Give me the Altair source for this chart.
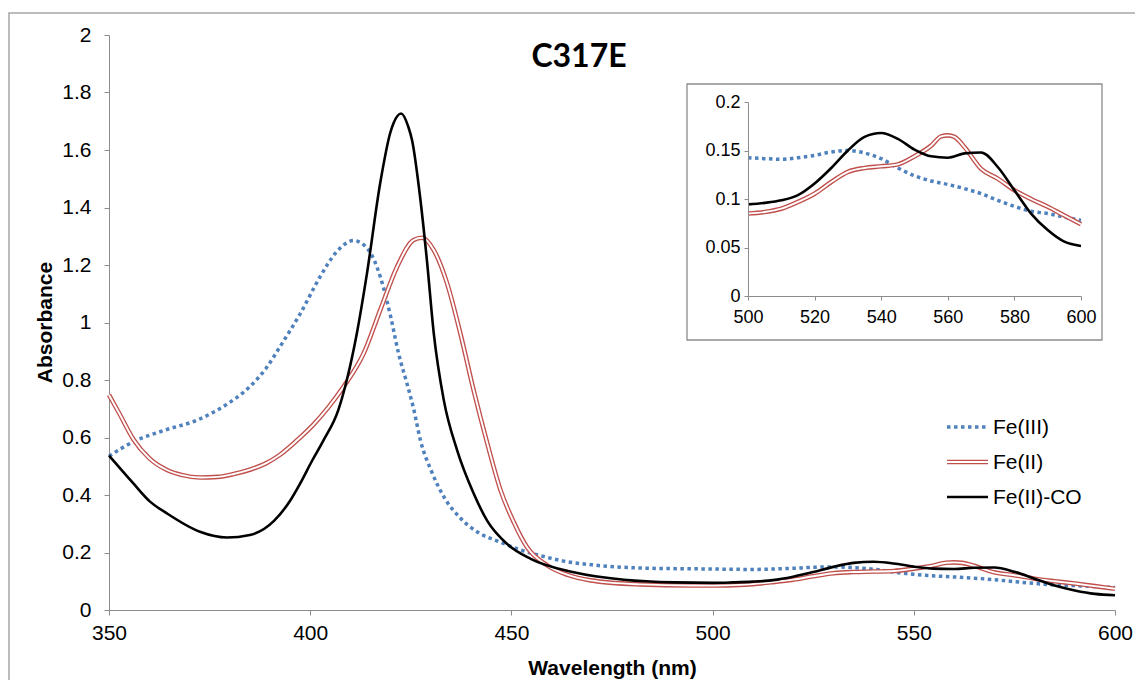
import altair as alt
import pandas as pd

# ---------------- data ----------------
fe3_nm = [350, 356, 364, 372, 379, 385, 389, 392.5, 397.5, 402.5,
          406.5, 410.8, 414.5, 417.4, 420, 422, 424, 425.7, 427.4, 430,
          433.2, 437.3, 442.3, 447.3, 452, 457, 463, 470, 482, 490,
          500, 505, 510, 515, 520, 525, 530, 535, 540, 545, 550,
          555, 560, 565, 570, 575, 580, 585, 590, 595, 600]
fe3_abs = [0.535, 0.585, 0.626, 0.661, 0.713, 0.777, 0.84, 0.916, 1.03, 1.16,
           1.245, 1.285, 1.252, 1.16, 1.02, 0.89, 0.79, 0.70, 0.59, 0.487,
           0.394, 0.32, 0.265, 0.236, 0.21, 0.19, 0.17, 0.157, 0.146, 0.144,
           0.1426, 0.1416, 0.141, 0.1426, 0.145, 0.1485, 0.150, 0.1474, 0.1416, 0.132, 0.124,
           0.1186, 0.115, 0.1107, 0.1055, 0.0986, 0.0924, 0.0873, 0.085, 0.0814, 0.078]

fe2_nm = [350, 352.7, 356, 360, 364.4, 368, 372.6, 377, 381, 385,
          389, 392.5, 397.5, 400.8, 404.5, 408.3, 413.3, 417.4, 421.6, 425.7,
          427.8, 430.7, 434, 437.3, 440.6, 444, 447.3, 450.6, 453.9, 458.9,
          464, 469.7, 482, 494.5,
          500, 505, 510, 515, 520, 525, 530, 535, 540, 545, 550,
          555, 558, 560, 562, 565, 570, 575, 580, 585, 590, 595, 600]
fe2_abs = [0.748, 0.68, 0.595, 0.528, 0.487, 0.47, 0.461, 0.463, 0.473, 0.488,
           0.51, 0.54, 0.60, 0.645, 0.705, 0.777, 0.893, 1.043, 1.194, 1.287,
           1.295, 1.252, 1.137, 0.963, 0.765, 0.58, 0.417, 0.305, 0.218, 0.155,
           0.122, 0.103, 0.089, 0.085,
           0.085, 0.0866, 0.090, 0.097, 0.1055, 0.1175, 0.128, 0.132, 0.1337, 0.1357, 0.144,
           0.155, 0.1646, 0.1656, 0.164, 0.1536, 0.131, 0.121, 0.109, 0.100, 0.092, 0.083, 0.074]

co_nm = [350, 356, 360.2, 364.4, 372.6, 379.3, 385, 391, 395, 397.5,
         400.5, 403.3, 407, 409.1, 411.6, 414.1, 417.4, 419.9, 420.7, 422.6,
         424.4, 425.3, 427.4, 429, 430.7, 433.2, 436.5, 440.6, 444, 449,
         454.8, 465.5, 478, 490.4,
         500, 505, 510, 515, 520, 525, 530, 535, 540, 545, 550,
         555, 560, 565, 570, 575, 580, 585, 590, 595, 600]
co_abs = [0.537, 0.441, 0.377, 0.336, 0.272, 0.252, 0.261, 0.31, 0.38, 0.44,
          0.52, 0.59, 0.696, 0.80, 0.963, 1.17, 1.485, 1.66, 1.693, 1.727,
          1.68, 1.635, 1.426, 1.217, 0.963, 0.73, 0.556, 0.406, 0.31, 0.229,
          0.178, 0.131, 0.105, 0.096,
          0.0945, 0.096, 0.0986, 0.104, 0.116, 0.132, 0.150, 0.164, 0.168, 0.162, 0.151,
          0.144, 0.1426, 0.147, 0.148, 0.133, 0.109, 0.085, 0.068, 0.056, 0.0515]

series_names = ["Fe(III)", "Fe(II)", "Fe(II)-CO"]
main_x_ticks = [350, 400, 450, 500, 550, 600]
main_y_ticks = [0, 0.2, 0.4, 0.6, 0.8, 1, 1.2, 1.4, 1.6, 1.8, 2]
inset_x_ticks = [500, 520, 540, 560, 580, 600]
inset_y_ticks = [0, 0.05, 0.1, 0.15, 0.2]
chart_title = "C317E"

# ---------------- tables ----------------
fe3 = pd.DataFrame({"nm": fe3_nm, "abs": fe3_abs})
fe2 = pd.DataFrame({"nm": fe2_nm, "abs": fe2_abs})
co = pd.DataFrame({"nm": co_nm, "abs": co_abs})

# ---------------- style ----------------
W, H = 1006, 575
FONT = "Liberation Sans"
AXC = "#8c8c8c"
BLUE = "#4F81BD"
RED = "#C0504D"
DOT = [3.5, 3.5]

x_main = alt.X("nm:Q", scale=alt.Scale(domain=[350, 600], nice=False, zero=False),
               axis=alt.Axis(values=main_x_ticks, format="d", title="Wavelength (nm)",
                             grid=False, domainColor=AXC, tickColor=AXC, tickSize=5,
                             labelFont=FONT, labelFontSize=21, labelColor="black",
                             labelPadding=7, labelFlush=False, labelOverlap=False,
                             titleFont=FONT, titleFontSize=21, titleFontWeight="bold",
                             titleColor="black", titleY=58, titleBaseline="middle"))
y_main = alt.Y("abs:Q", scale=alt.Scale(domain=[0, 2], nice=False),
               axis=alt.Axis(values=main_y_ticks, format="~g", title="Absorbance",
                             grid=False, domainColor=AXC, tickColor=AXC, tickSize=5,
                             labelFont=FONT, labelFontSize=21, labelColor="black",
                             labelPadding=13, labelFlush=False, labelOverlap=False,
                             titleFont=FONT, titleFontSize=21, titleFontWeight="bold",
                             titleColor="black", titleX=-64, titleY=287,
                             titleBaseline="middle"))

x_in = alt.X("nm:Q", scale=alt.Scale(domain=[500, 600], range=[639, 972], nice=False, zero=False),
             axis=alt.Axis(orient="bottom", offset=-314, values=inset_x_ticks, format="d",
                           title=None, grid=False, domainColor=AXC, tickColor=AXC, tickSize=4,
                           labelFont=FONT, labelFontSize=18, labelColor="black", zindex=2,
                           labelPadding=8, labelFlush=False, labelOverlap=False))
y_in = alt.Y("abs:Q", scale=alt.Scale(domain=[0, 0.2], range=[261, 67], nice=False),
             axis=alt.Axis(orient="left", offset=-639, values=inset_y_ticks, format="~g",
                           title=None, grid=False, domainColor=AXC, tickColor=AXC, tickSize=4,
                           labelFont=FONT, labelFontSize=18, labelColor="black", zindex=2,
                           labelPadding=4, labelFlush=False, labelOverlap=False))


def lines(x_enc, y_enc, lo):
    def src(d):
        return alt.Chart(d[d["nm"] >= lo])
    blue = src(fe3).mark_line(color=BLUE, strokeWidth=3.5, strokeDash=DOT,
                              strokeCap="butt", interpolate="monotone").encode(x=x_enc, y=y_enc)
    red = src(fe2).mark_line(color=RED, strokeWidth=4.6,
                             interpolate="monotone").encode(x=x_enc, y=y_enc)
    red_in = src(fe2).mark_line(color="white", strokeWidth=1.9,
                                interpolate="monotone").encode(x=x_enc, y=y_enc)
    black = src(co).mark_line(color="black", strokeWidth=2.6,
                              interpolate="monotone").encode(x=x_enc, y=y_enc)
    return alt.layer(blue, red, red_in, black)


main_group = lines(x_main, y_main, 350)
inset_group = lines(x_in, y_in, 500)

one = alt.Data(values=[{"k": 0}])

outer_frame = alt.Chart(one).mark_rect(fillOpacity=0, stroke="#a6a6a6", strokeWidth=1.5).encode(
    x=alt.value(-100), x2=alt.value(1040), y=alt.value(-22), y2=alt.value(680))
inset_frame = alt.Chart(one).mark_rect(fill="white", stroke="#8c8c8c", strokeWidth=1.3).encode(
    x=alt.value(578), x2=alt.value(993), y=alt.value(49), y2=alt.value(305))

title = alt.Chart(one).mark_text(text=chart_title, font="Lato", fontSize=32, fontWeight="bold",
                                 baseline="alphabetic", align="center").encode(
    x=alt.value(470), y=alt.value(32))

# legend built from marks
leg_rows = [392, 427, 462]
lx0, lx1, ltx = 838, 879, 884
leg = []
leg.append(alt.Chart(one).mark_rule(color=BLUE, strokeWidth=3.5, strokeDash=DOT, strokeCap="butt").encode(
    x=alt.value(lx0), x2=alt.value(lx1), y=alt.value(leg_rows[0])))
leg.append(alt.Chart(one).mark_rule(color=RED, strokeWidth=4.6).encode(
    x=alt.value(lx0), x2=alt.value(lx1), y=alt.value(leg_rows[1])))
leg.append(alt.Chart(one).mark_rule(color="white", strokeWidth=1.9).encode(
    x=alt.value(lx0), x2=alt.value(lx1), y=alt.value(leg_rows[1])))
leg.append(alt.Chart(one).mark_rule(color="black", strokeWidth=2.6).encode(
    x=alt.value(lx0), x2=alt.value(lx1), y=alt.value(leg_rows[2])))
for name, ry in zip(series_names, leg_rows):
    leg.append(alt.Chart(one).mark_text(text=name, font=FONT, fontSize=21, align="left",
                                        baseline="middle", color="black").encode(
        x=alt.value(ltx), y=alt.value(ry + 1)))

chart = alt.layer(outer_frame, main_group, inset_frame, inset_group, *leg, title).resolve_scale(
    x="independent", y="independent"
).properties(
    width=W, height=H,
    autosize=alt.AutoSizeParams(type="none"),
    padding={"left": 101, "top": 27, "right": 20, "bottom": 70},
).configure_view(stroke=None)

chart.save("out.html", embed_options={"renderer": "svg", "actions": False})
